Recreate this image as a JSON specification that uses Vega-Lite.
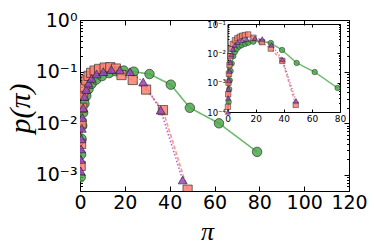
{
  "$schema": "https://vega.github.io/schema/vega-lite/v6.json",
  "width": 269,
  "height": 171,
  "autosize": {"type": "none"},
  "padding": {"left": 80, "top": 20, "right": 25, "bottom": 58},
  "background": "white",
  "config": {
    "view": {"stroke": "black", "strokeWidth": 1},
    "axis": {"grid": false, "domainColor": "black", "tickColor": "black", "labelColor": "black", "titleColor": "black", "labelFont": "DejaVu Sans", "titleFont": "Liberation Serif", "titleFontWeight": "normal", "labelFlush": false, "labelOverlap": false}
  },
  "datasets": {
    "main": [
      {"series": "a", "pi": 0.3, "p": 0.0009}, {"series": "a", "pi": 0.5, "p": 0.0025}, {"series": "a", "pi": 0.7, "p": 0.005}, {"series": "a", "pi": 1.0, "p": 0.009}, {"series": "a", "pi": 1.4, "p": 0.016}, {"series": "a", "pi": 2.0, "p": 0.024}, {"series": "a", "pi": 2.8, "p": 0.034}, {"series": "a", "pi": 3.8, "p": 0.046}, {"series": "a", "pi": 5.2, "p": 0.058}, {"series": "a", "pi": 7.2, "p": 0.07}, {"series": "a", "pi": 9.8, "p": 0.082}, {"series": "a", "pi": 13, "p": 0.094}, {"series": "a", "pi": 16, "p": 0.102}, {"series": "a", "pi": 19.5, "p": 0.105}, {"series": "a", "pi": 24, "p": 0.1}, {"series": "a", "pi": 31, "p": 0.09}, {"series": "a", "pi": 40.5, "p": 0.056}, {"series": "a", "pi": 49, "p": 0.02}, {"series": "a", "pi": 62, "p": 0.01}, {"series": "a", "pi": 79, "p": 0.0028},
      {"series": "b", "pi": 0.3, "p": 0.0015}, {"series": "b", "pi": 0.5, "p": 0.004}, {"series": "b", "pi": 0.7, "p": 0.01}, {"series": "b", "pi": 1.0, "p": 0.02}, {"series": "b", "pi": 1.4, "p": 0.035}, {"series": "b", "pi": 2.0, "p": 0.05}, {"series": "b", "pi": 2.8, "p": 0.068}, {"series": "b", "pi": 3.8, "p": 0.083}, {"series": "b", "pi": 5.0, "p": 0.095}, {"series": "b", "pi": 6.5, "p": 0.105}, {"series": "b", "pi": 8.5, "p": 0.113}, {"series": "b", "pi": 11, "p": 0.12}, {"series": "b", "pi": 13.5, "p": 0.122}, {"series": "b", "pi": 16, "p": 0.115}, {"series": "b", "pi": 18.5, "p": 0.086}, {"series": "b", "pi": 23.5, "p": 0.069}, {"series": "b", "pi": 29.5, "p": 0.045}, {"series": "b", "pi": 37, "p": 0.018}, {"series": "b", "pi": 48, "p": 0.00052},
      {"series": "c", "pi": 0.3, "p": 0.0012}, {"series": "c", "pi": 0.4, "p": 0.002}, {"series": "c", "pi": 0.5, "p": 0.0032}, {"series": "c", "pi": 0.6, "p": 0.005}, {"series": "c", "pi": 0.8, "p": 0.008}, {"series": "c", "pi": 1.0, "p": 0.013}, {"series": "c", "pi": 1.4, "p": 0.02}, {"series": "c", "pi": 2.0, "p": 0.033}, {"series": "c", "pi": 2.8, "p": 0.045}, {"series": "c", "pi": 3.8, "p": 0.06}, {"series": "c", "pi": 5.2, "p": 0.074}, {"series": "c", "pi": 7.4, "p": 0.09}, {"series": "c", "pi": 10.4, "p": 0.1}, {"series": "c", "pi": 14, "p": 0.11}, {"series": "c", "pi": 17.8, "p": 0.108}, {"series": "c", "pi": 22.3, "p": 0.1}, {"series": "c", "pi": 28.2, "p": 0.063}, {"series": "c", "pi": 36, "p": 0.018}, {"series": "c", "pi": 45.8, "p": 0.0008}
    ],
    "inset": [
      {"series": "a", "pi": 0.8, "p": 0.00022}, {"series": "a", "pi": 1.2, "p": 0.0006}, {"series": "a", "pi": 1.6, "p": 0.0012}, {"series": "a", "pi": 2.2, "p": 0.0025}, {"series": "a", "pi": 3, "p": 0.0045}, {"series": "a", "pi": 4.1, "p": 0.008}, {"series": "a", "pi": 5.2, "p": 0.011}, {"series": "a", "pi": 6.5, "p": 0.014}, {"series": "a", "pi": 8.2, "p": 0.017}, {"series": "a", "pi": 10, "p": 0.019}, {"series": "a", "pi": 12.5, "p": 0.021}, {"series": "a", "pi": 14.7, "p": 0.023}, {"series": "a", "pi": 18.3, "p": 0.025}, {"series": "a", "pi": 24, "p": 0.025}, {"series": "a", "pi": 30.8, "p": 0.0225}, {"series": "a", "pi": 38.8, "p": 0.013}, {"series": "a", "pi": 49.2, "p": 0.0047}, {"series": "a", "pi": 62, "p": 0.0023}, {"series": "a", "pi": 78.3, "p": 0.00066},
      {"series": "b", "pi": 0.3, "p": 0.00015}, {"series": "b", "pi": 0.5, "p": 0.0004}, {"series": "b", "pi": 0.7, "p": 0.001}, {"series": "b", "pi": 1.0, "p": 0.002}, {"series": "b", "pi": 1.4, "p": 0.004}, {"series": "b", "pi": 2.0, "p": 0.008}, {"series": "b", "pi": 2.8, "p": 0.014}, {"series": "b", "pi": 3.8, "p": 0.021}, {"series": "b", "pi": 5.3, "p": 0.028}, {"series": "b", "pi": 7, "p": 0.033}, {"series": "b", "pi": 8.8, "p": 0.037}, {"series": "b", "pi": 10.5, "p": 0.04}, {"series": "b", "pi": 12.4, "p": 0.042}, {"series": "b", "pi": 14.7, "p": 0.044}, {"series": "b", "pi": 18.5, "p": 0.034}, {"series": "b", "pi": 24.5, "p": 0.024}, {"series": "b", "pi": 30.8, "p": 0.0145}, {"series": "b", "pi": 39, "p": 0.0055}, {"series": "b", "pi": 48.5, "p": 0.000175},
      {"series": "c", "pi": 0.3, "p": 0.0001}, {"series": "c", "pi": 0.5, "p": 0.0003}, {"series": "c", "pi": 0.7, "p": 0.0006}, {"series": "c", "pi": 1.0, "p": 0.0012}, {"series": "c", "pi": 1.4, "p": 0.0025}, {"series": "c", "pi": 2, "p": 0.005}, {"series": "c", "pi": 2.8, "p": 0.009}, {"series": "c", "pi": 3.8, "p": 0.014}, {"series": "c", "pi": 5.2, "p": 0.019}, {"series": "c", "pi": 7.4, "p": 0.024}, {"series": "c", "pi": 10.4, "p": 0.028}, {"series": "c", "pi": 13.6, "p": 0.03}, {"series": "c", "pi": 19.5, "p": 0.0325}, {"series": "c", "pi": 24.7, "p": 0.031}, {"series": "c", "pi": 31.3, "p": 0.0193}, {"series": "c", "pi": 39, "p": 0.0062}, {"series": "c", "pi": 48.7, "p": 0.00024}
    ]
  },
  "resolve": {"scale": {"x": "independent", "y": "independent", "color": "independent", "shape": "independent", "strokeDash": "independent", "size": "independent"}},
  "layer": [
    {
      "data": {"name": "main"},
      "mark": {"type": "line", "strokeWidth": 1.6, "opacity": 0.8, "clip": true},
      "encoding": {
        "x": {"field": "pi", "type": "quantitative", "scale": {"domain": [0, 120], "nice": false, "zero": false},
          "axis": {"orient": "bottom", "values": [0, 20, 40, 60, 80, 100, 120], "ticks": false, "domain": false, "labelFontSize": 19, "labelPadding": 2, "title": "π", "titleFontSize": 26, "titleFontStyle": "italic", "titleX": 127, "titleY": 40, "titleBaseline": "middle", "titleAlign": "center"}},
        "y": {"field": "p", "type": "quantitative", "scale": {"type": "log", "domain": [0.00049, 1], "nice": false},
          "axis": {"orient": "left", "values": [0.001, 0.01, 0.1, 1], "ticks": false, "domain": false, "labelFontSize": 19, "labelPadding": 3, "labelBaseline": "middle",
            "labelExpr": "round(log(datum.value)/LN10)==0 ? '10⁰' : round(log(datum.value)/LN10)==-1 ? '10⁻¹' : round(log(datum.value)/LN10)==-2 ? '10⁻²' : '10⁻³'",
            "title": "p(π)", "titleFontSize": 30, "titleFontStyle": "italic", "titleX": -60, "titleY": 88, "titleBaseline": "middle", "titleAlign": "center", "titleAngle": -90}},
        "color": {"field": "series", "type": "nominal", "legend": null, "scale": {"domain": ["a", "b", "c"], "range": ["#4aa84a", "#fa8072", "#9b45c0"]}},
        "strokeDash": {"field": "series", "type": "nominal", "legend": null, "scale": {"domain": ["a", "b", "c"], "range": [[1, 0], [4, 2], [1.5, 2]]}},
        "order": {"field": "pi", "type": "quantitative"}
      }
    },
    {
      "data": {"name": "main"},
      "mark": {"type": "point", "filled": true, "stroke": "#222", "strokeWidth": 0.9, "strokeOpacity": 0.7, "fillOpacity": 0.85, "clip": true},
      "encoding": {
        "x": {"field": "pi", "type": "quantitative", "scale": {"domain": [0, 120], "nice": false, "zero": false}, "axis": null},
        "y": {"field": "p", "type": "quantitative", "scale": {"type": "log", "domain": [0.00049, 1], "nice": false}, "axis": null},
        "color": {"field": "series", "type": "nominal", "legend": null, "scale": {"domain": ["a", "b", "c"], "range": ["#4aa84a", "#fa8072", "#9b45c0"]}},
        "shape": {"field": "series", "type": "nominal", "legend": null, "scale": {"domain": ["a", "b", "c"], "range": ["circle", "square", "triangle-up"]}},
        "size": {"field": "series", "type": "nominal", "legend": null, "scale": {"domain": ["a", "b", "c"], "range": [90, 80, 95]}}
      }
    },
    {
      "data": {"name": "main"},
      "mark": {"type": "point", "opacity": 0},
      "encoding": {
        "x": {"field": "pi", "type": "quantitative", "scale": {"domain": [0, 120], "nice": false, "zero": false},
          "axis": {"orient": "bottom", "values": [0, 20, 40, 60, 80, 100, 120], "labels": false, "domain": false, "tickSize": -5, "title": null}},
        "y": {"field": "p", "type": "quantitative", "scale": {"type": "log", "domain": [0.00049, 1], "nice": false},
          "axis": {"orient": "left", "labels": false, "domain": false, "title": null,
            "values": [0.0005, 0.0006, 0.0007, 0.0008, 0.0009, 0.001, 0.002, 0.003, 0.004, 0.005, 0.006, 0.007, 0.008, 0.009, 0.01, 0.02, 0.03, 0.04, 0.05, 0.06, 0.07, 0.08, 0.09, 0.1, 0.2, 0.3, 0.4, 0.5, 0.6, 0.7, 0.8, 0.9, 1],
            "tickSize": {"condition": {"test": "abs(log(datum.value)/LN10 - round(log(datum.value)/LN10)) < 0.001", "value": -5}, "value": -2.5}}}
      }
    },
    {
      "data": {"name": "main"},
      "mark": {"type": "point", "opacity": 0},
      "encoding": {
        "x": {"field": "pi", "type": "quantitative", "scale": {"domain": [0, 120], "nice": false, "zero": false},
          "axis": {"orient": "top", "values": [0, 20, 40, 60, 80, 100, 120], "labels": false, "domain": false, "tickSize": -5, "title": null}},
        "y": {"field": "p", "type": "quantitative", "scale": {"type": "log", "domain": [0.00049, 1], "nice": false},
          "axis": {"orient": "right", "labels": false, "domain": false, "title": null,
            "values": [0.0005, 0.0006, 0.0007, 0.0008, 0.0009, 0.001, 0.002, 0.003, 0.004, 0.005, 0.006, 0.007, 0.008, 0.009, 0.01, 0.02, 0.03, 0.04, 0.05, 0.06, 0.07, 0.08, 0.09, 0.1, 0.2, 0.3, 0.4, 0.5, 0.6, 0.7, 0.8, 0.9, 1],
            "tickSize": {"condition": {"test": "abs(log(datum.value)/LN10 - round(log(datum.value)/LN10)) < 0.001", "value": -5}, "value": -2.5}}}
      }
    },
    {
      "data": {"name": "inset"},
      "mark": {"type": "line", "strokeWidth": 1.4, "opacity": 0.8, "clip": false},
      "encoding": {
        "x": {"field": "pi", "type": "quantitative", "scale": {"domain": [0, 80], "nice": false, "zero": false, "range": [147.5, 260]},
          "axis": {"orient": "bottom", "offset": -79, "values": [0, 20, 40, 60, 80], "ticks": false, "domain": true, "labelFontSize": 9, "labelPadding": 2, "title": null}},
        "y": {"field": "p", "type": "quantitative", "scale": {"type": "log", "domain": [0.0001, 0.1], "nice": false, "range": [92, 4]},
          "axis": {"orient": "left", "offset": -147.5, "values": [0.0001, 0.001, 0.01, 0.1], "ticks": false, "domain": true, "labelFontSize": 8.5, "labelPadding": 2, "labelBaseline": "middle",
            "labelExpr": "round(log(datum.value)/LN10)==-1 ? '10⁻¹' : round(log(datum.value)/LN10)==-2 ? '10⁻²' : round(log(datum.value)/LN10)==-3 ? '10⁻³' : '10⁻⁴'", "title": null}},
        "color": {"field": "series", "type": "nominal", "legend": null, "scale": {"domain": ["a", "b", "c"], "range": ["#4aa84a", "#fa8072", "#9b45c0"]}},
        "strokeDash": {"field": "series", "type": "nominal", "legend": null, "scale": {"domain": ["a", "b", "c"], "range": [[1, 0], [3, 2], [1.2, 1.8]]}},
        "order": {"field": "pi", "type": "quantitative"}
      }
    },
    {
      "data": {"name": "inset"},
      "mark": {"type": "point", "filled": true, "stroke": "#222", "strokeWidth": 0.7, "strokeOpacity": 0.7, "fillOpacity": 0.85},
      "encoding": {
        "x": {"field": "pi", "type": "quantitative", "scale": {"domain": [0, 80], "nice": false, "zero": false, "range": [147.5, 260]}, "axis": null},
        "y": {"field": "p", "type": "quantitative", "scale": {"type": "log", "domain": [0.0001, 0.1], "nice": false, "range": [92, 4]}, "axis": null},
        "color": {"field": "series", "type": "nominal", "legend": null, "scale": {"domain": ["a", "b", "c"], "range": ["#4aa84a", "#fa8072", "#9b45c0"]}},
        "shape": {"field": "series", "type": "nominal", "legend": null, "scale": {"domain": ["a", "b", "c"], "range": ["circle", "square", "triangle-up"]}},
        "size": {"field": "series", "type": "nominal", "legend": null, "scale": {"domain": ["a", "b", "c"], "range": [30, 28, 32]}}
      }
    },
    {
      "data": {"name": "inset"},
      "mark": {"type": "point", "opacity": 0},
      "encoding": {
        "x": {"field": "pi", "type": "quantitative", "scale": {"domain": [0, 80], "nice": false, "zero": false, "range": [147.5, 260]},
          "axis": {"orient": "bottom", "offset": -79, "values": [0, 20, 40, 60, 80], "labels": false, "domain": false, "tickSize": -3, "title": null}},
        "y": {"field": "p", "type": "quantitative", "scale": {"type": "log", "domain": [0.0001, 0.1], "nice": false, "range": [92, 4]},
          "axis": {"orient": "left", "offset": -147.5, "labels": false, "domain": false, "title": null,
            "values": [0.0001, 0.0002, 0.0003, 0.0004, 0.0005, 0.0006, 0.0007, 0.0008, 0.0009, 0.001, 0.002, 0.003, 0.004, 0.005, 0.006, 0.007, 0.008, 0.009, 0.01, 0.02, 0.03, 0.04, 0.05, 0.06, 0.07, 0.08, 0.09, 0.1],
            "tickSize": {"condition": {"test": "abs(log(datum.value)/LN10 - round(log(datum.value)/LN10)) < 0.001", "value": -3}, "value": -1.5}}}
      }
    },
    {
      "data": {"name": "inset"},
      "mark": {"type": "point", "opacity": 0},
      "encoding": {
        "x": {"field": "pi", "type": "quantitative", "scale": {"domain": [0, 80], "nice": false, "zero": false, "range": [147.5, 260]},
          "axis": {"orient": "top", "offset": -4, "values": [0, 20, 40, 60, 80], "labels": false, "domain": true, "tickSize": -3, "title": null}},
        "y": {"field": "p", "type": "quantitative", "scale": {"type": "log", "domain": [0.0001, 0.1], "nice": false, "range": [92, 4]},
          "axis": {"orient": "right", "offset": -9, "labels": false, "domain": true, "title": null,
            "values": [0.0001, 0.0002, 0.0003, 0.0004, 0.0005, 0.0006, 0.0007, 0.0008, 0.0009, 0.001, 0.002, 0.003, 0.004, 0.005, 0.006, 0.007, 0.008, 0.009, 0.01, 0.02, 0.03, 0.04, 0.05, 0.06, 0.07, 0.08, 0.09, 0.1],
            "tickSize": {"condition": {"test": "abs(log(datum.value)/LN10 - round(log(datum.value)/LN10)) < 0.001", "value": -3}, "value": -1.5}}}
      }
    }
  ]
}
